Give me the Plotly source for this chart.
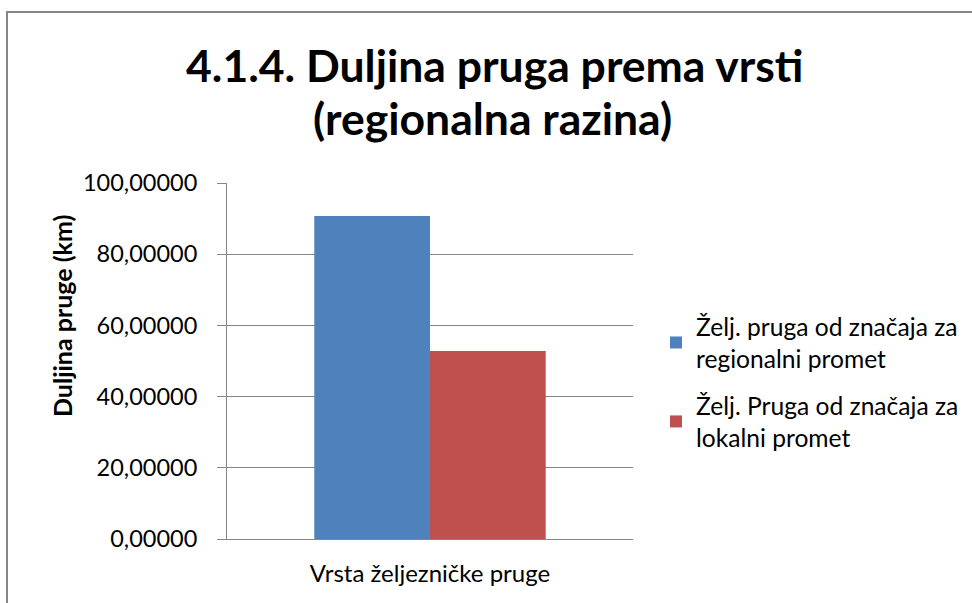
import plotly.graph_objects as go

categories = ["Vrsta željezničke pruge"]
series_names = ["Želj. pruga od značaja za<br>regionalni promet",
                "Želj. Pruga od značaja za<br>lokalni promet"]
regional_values = [90.7]
local_values = [52.8]
colors = ["#4F81BD", "#C0504D"]

FONT = "Lato, 'Open Sans', sans-serif"
GRID = "#868686"

fig = go.Figure()
fig.add_trace(go.Bar(x=categories, y=regional_values, name=series_names[0],
                     legendgroup="g1",
                     marker=dict(color=colors[0], line=dict(width=0))))
fig.add_trace(go.Bar(x=categories, y=local_values, name=series_names[1],
                     legendgroup="g2",
                     marker=dict(color=colors[1], line=dict(width=0))))

L, R, T, B = 227, 972 - 633, 183, 603 - 539
W, H = 972 - L - R, 603 - T - B


def px_x(x):
    return (x - L) / W


def px_y(y):
    return (603 - B - y) / H


fig.update_layout(
    width=972, height=603,
    margin=dict(l=L, r=R, t=T, b=B, autoexpand=False),
    paper_bgcolor="white", plot_bgcolor="white",
    separators=",.",
    barmode="group", bargap=0.43, bargroupgap=0,
    font=dict(family=FONT, size=23, color="#000000"),
    showlegend=True,
    legend=dict(x=px_x(656), y=px_y(304), xanchor="left", yanchor="top",
                font=dict(family=FONT, size=24.6, color="#000000"),
                traceorder="grouped", tracegroupgap=12, itemwidth=30,
                bgcolor="rgba(0,0,0,0)"),
    xaxis=dict(showgrid=False, showline=True, linecolor=GRID, linewidth=1,
               ticks="", tickfont=dict(family=FONT, size=24, color="#000000"),
               ticklabelstandoff=13),
    yaxis=dict(range=[0, 100], dtick=20, tickformat=".5f",
               showgrid=True, gridcolor=GRID, gridwidth=1,
               showline=True, linecolor=GRID, linewidth=1,
               ticks="outside", ticklen=9, tickcolor=GRID,
               tickfont=dict(family=FONT, size=23.5, color="#000000"),
               ticklabelstandoff=15, zeroline=False),
)

fig.add_annotation(text="<b>4.1.4. Duljina pruga prema vrsti</b>",
                   xref="paper", yref="paper", x=px_x(494), y=px_y(65),
                   xanchor="center", yanchor="middle", showarrow=False,
                   font=dict(family=FONT, size=44.5, color="#000000"))
fig.add_annotation(text="<b>(regionalna razina)</b>",
                   xref="paper", yref="paper", x=px_x(492), y=px_y(117),
                   xanchor="center", yanchor="middle", showarrow=False,
                   font=dict(family=FONT, size=44.5, color="#000000"))
fig.add_annotation(text="<b>Duljina pruge (km)</b>", textangle=-90,
                   xref="paper", yref="paper", x=px_x(62), y=px_y(316),
                   xanchor="center", yanchor="middle", showarrow=False,
                   font=dict(family=FONT, size=25, color="#000000"))

fig.add_shape(type="rect", xref="paper", yref="paper",
              x0=px_x(7), y0=px_y(650), x1=px_x(1000), y1=px_y(12),
              line=dict(color=GRID, width=2), fillcolor="rgba(0,0,0,0)",
              layer="below")

fig.write_html("out.html", config={"displayModeBar": False},
               post_script="document.body.style.margin='0';")
